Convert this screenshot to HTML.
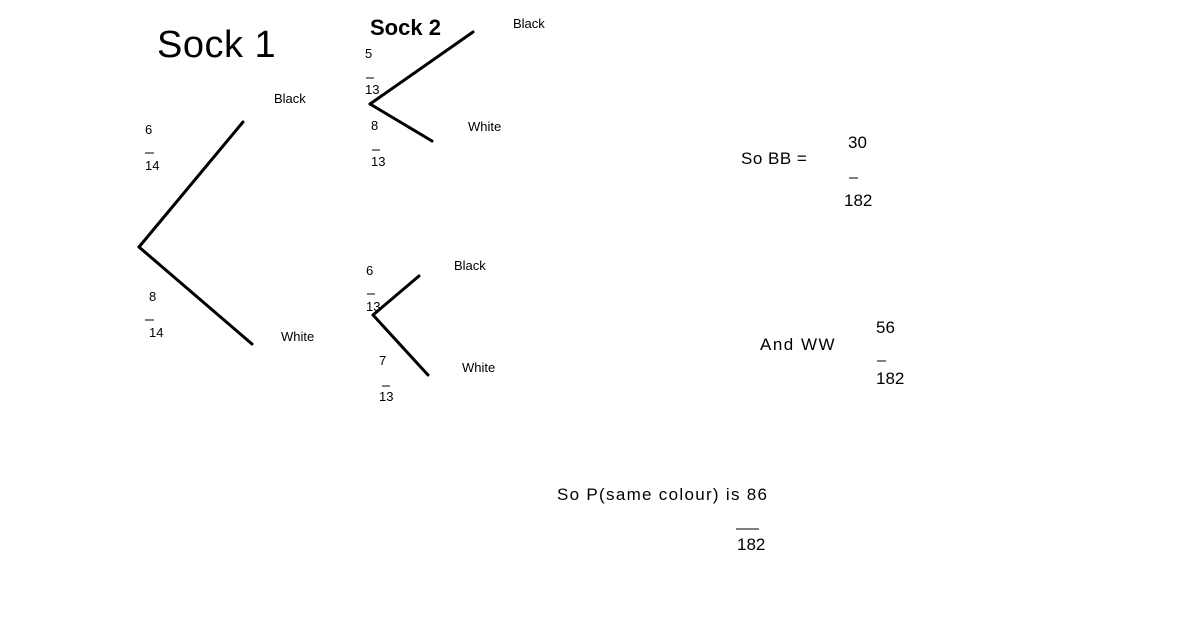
<!DOCTYPE html><html><head><style>
body{margin:0;width:1200px;height:618px;background:#fff;position:relative;overflow:hidden;font-family:"Liberation Sans",sans-serif;color:#000}
.t{position:absolute;white-space:nowrap;line-height:1}
.s{font-size:13px}.m{font-size:17px}
</style></head><body>
<svg width="1200" height="618" style="position:absolute;left:0;top:0">
<g stroke="#000" stroke-width="3" stroke-linecap="round">
<line x1="139" y1="247" x2="243" y2="122"/><line x1="139" y1="247" x2="252" y2="344"/>
<line x1="370" y1="104" x2="473" y2="32"/><line x1="370" y1="104" x2="432" y2="141"/>
<line x1="373" y1="315" x2="419" y2="276"/><line x1="373" y1="315" x2="428" y2="375"/>
</g>
<g stroke="#000" stroke-width="1">
<line x1="145" y1="153" x2="154" y2="153"/><line x1="145" y1="320" x2="154" y2="320"/>
<line x1="366" y1="78" x2="374" y2="78"/><line x1="372" y1="150" x2="380" y2="150"/>
<line x1="367" y1="294" x2="375" y2="294"/><line x1="382" y1="386" x2="390" y2="386"/>
<line x1="849" y1="178" x2="858" y2="178"/><line x1="877" y1="361" x2="886" y2="361"/>
<line x1="736" y1="529" x2="759" y2="529"/>
</g></svg>
<div class="t" style="left:157px;top:26px;font-size:38px;letter-spacing:0.5px">Sock 1</div>
<div class="t" style="left:370px;top:17px;font-size:22px;font-weight:bold">Sock 2</div>
<div class="t s" style="left:513px;top:17px">Black</div>
<div class="t s" style="left:274px;top:92px">Black</div>
<div class="t s" style="left:468px;top:120px">White</div>
<div class="t s" style="left:454px;top:259px">Black</div>
<div class="t s" style="left:281px;top:330px">White</div>
<div class="t s" style="left:462px;top:361px">White</div>
<div class="t s" style="left:145px;top:123px">6</div>
<div class="t s" style="left:145px;top:159px">14</div>
<div class="t s" style="left:149px;top:290px">8</div>
<div class="t s" style="left:149px;top:326px">14</div>
<div class="t s" style="left:365px;top:47px">5</div>
<div class="t s" style="left:365px;top:83px">13</div>
<div class="t s" style="left:371px;top:119px">8</div>
<div class="t s" style="left:371px;top:155px">13</div>
<div class="t s" style="left:366px;top:264px">6</div>
<div class="t s" style="left:366px;top:300px">13</div>
<div class="t s" style="left:379px;top:354px">7</div>
<div class="t s" style="left:379px;top:390px">13</div>
<div class="t m" style="left:741px;top:150px;letter-spacing:0.5px">So BB =</div>
<div class="t m" style="left:848px;top:134px">30</div>
<div class="t m" style="left:844px;top:192px">182</div>
<div class="t m" style="left:760px;top:336px;letter-spacing:1.5px">And WW</div>
<div class="t m" style="left:876px;top:319px">56</div>
<div class="t m" style="left:876px;top:370px">182</div>
<div class="t m" style="left:557px;top:486px;letter-spacing:1.3px">So P(same colour) is 86</div>
<div class="t m" style="left:737px;top:536px">182</div>
</body></html>
